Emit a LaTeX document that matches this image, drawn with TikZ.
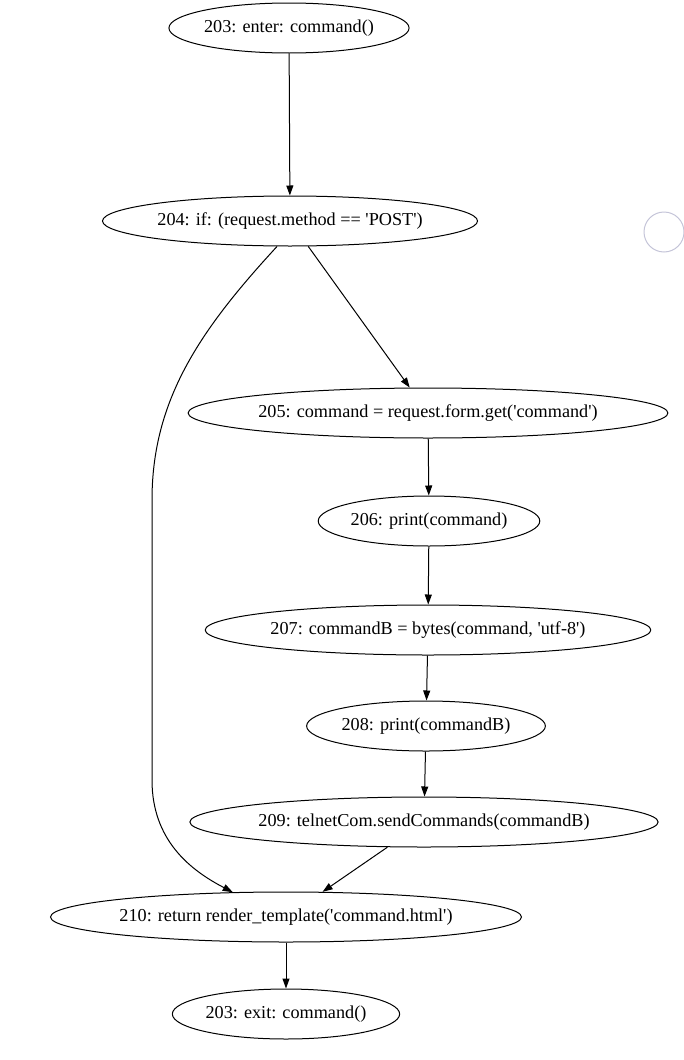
\documentclass[tikz,border=0pt]{standalone}
\usepackage{fontspec}
\setmainfont{Liberation Serif}[Ligatures=TeXOff]
\usetikzlibrary{shapes.geometric,arrows.meta}
\definecolor{ringgray}{RGB}{196,196,216}
\begin{document}
\begin{tikzpicture}[x=1pt,y=1pt,line width=1pt,
  stmt/.style={draw,ellipse,inner sep=0pt,minimum height=50pt,font=\fontsize{18.2}{22}\selectfont},
  flow/.style={-{Triangle[length=10pt,width=7pt]}}]
\useasboundingbox (0,0) rectangle (683,-1060);
\node[stmt] (enter) at (289,-28) {203: enter: command()};
\node[stmt] (n204) at (290,-221) {204: if: (request.method == 'POST')};
\node[stmt] (n205) at (428,-413) {205: command = request.form.get('command')};
\node[stmt] (n206) at (429,-521) {206: print(command)};
\node[stmt] (n207) at (428,-630) {207: commandB = bytes(command, 'utf-8')};
\node[stmt] (n208) at (426,-726) {208: print(commandB)};
\node[stmt] (n209) at (424,-822) {209: telnetCom.sendCommands(commandB)};
\node[stmt] (n210) at (286,-917) {210: return render\_template('command.html')};
\node[stmt] (exit) at (286,-1014) {203: exit: command()};
\foreach \a/\b in {enter/n204,n204/n205,n205/n206,n206/n207,n207/n208,n208/n209,n209/n210,n210/exit}
  \draw[flow] (\a) -- (\b);
% false branch of the if
\coordinate (dropA) at (152,-500);
\coordinate (dropB) at (152,-780);
\draw[flow] (n204.243) .. controls (200,-330) and (152,-400) .. (dropA) -- (dropB)
  .. controls (152,-840) and (190,-870) .. (n210.155);
\draw[ringgray] (664,-232) circle [radius=20];
\end{tikzpicture}
\end{document}
